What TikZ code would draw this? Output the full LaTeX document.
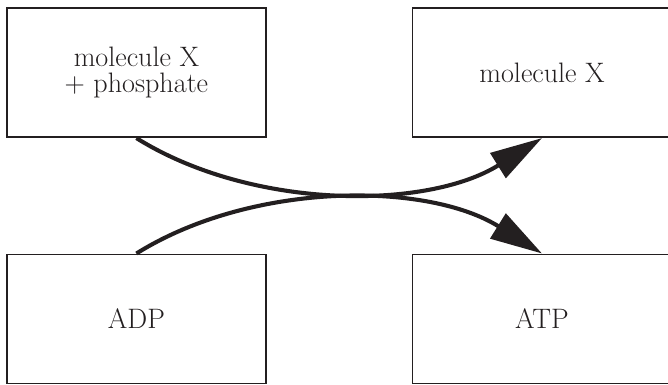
\documentclass[tikz,border=0pt]{standalone}
\usepackage{tikz}
\usetikzlibrary{arrows.meta}

\definecolor{ink}{HTML}{231F20}

\begin{document}
\begin{tikzpicture}[box/.style = {rectangle, draw, line width=1.4pt, minimum width=6.475cm, minimum height=3.225cm, align=center},
                    reaction/.style = {line width=2.9pt, -{Triangle[length=1.3cm, width=0.72cm]}},
                    color=ink, font=\fontsize{20pt}{18.5pt}\selectfont]
  \useasboundingbox (0, 0) rectangle (16.7, 9.625);

  % Boxes.
  \node at (3.41, 7.81) [box, name=MoleculePhosphate] {molecule X\\+ phosphate};
  \node at (13.55, 7.81) [box, name=Molecule] {molecule X};
  \node at (3.41, 1.65) [box, name=ADP] {ADP};
  \node at (13.55, 1.65) [box, name=ATP] {ATP};

  % Coupled reactions.
  \draw [reaction] (MoleculePhosphate.south)
                   to [out=-32, in=212, looseness=0.86]
                   (Molecule.south);
  \draw [reaction] (ADP.north)
                   to [out=32, in=148, looseness=0.86]
                   (ATP.north);
\end{tikzpicture}
\end{document}
